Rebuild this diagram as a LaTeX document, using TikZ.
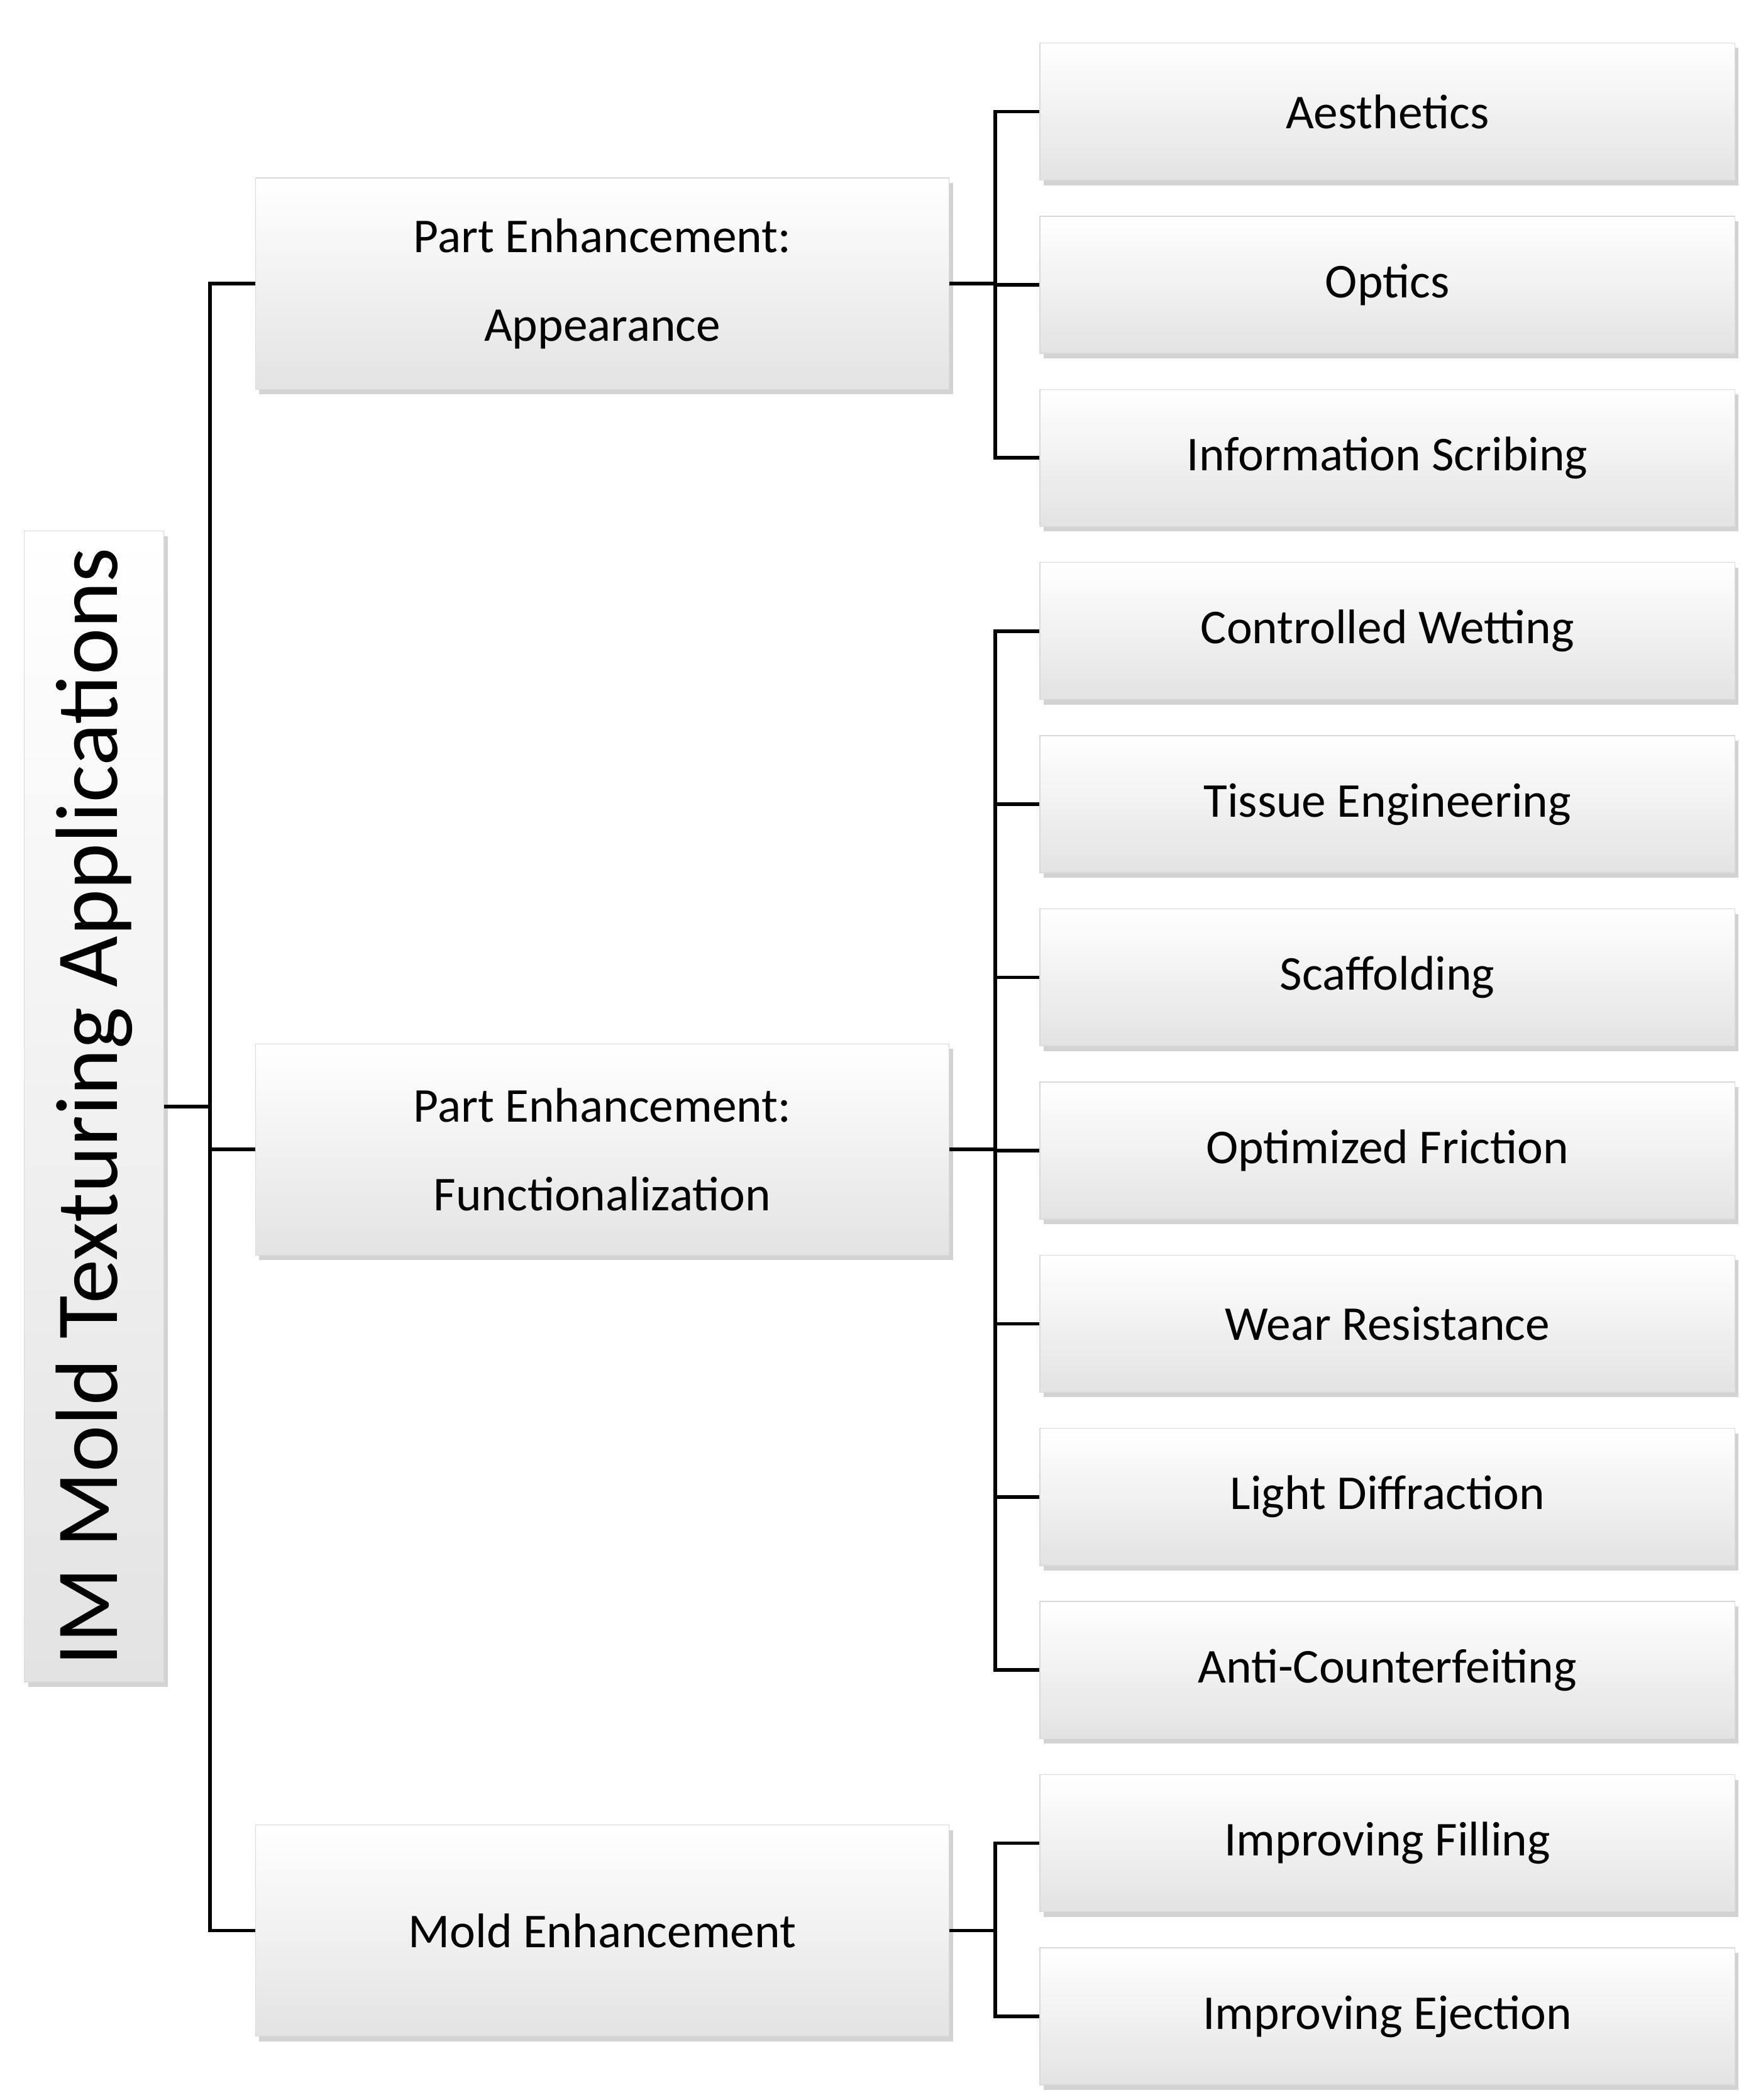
\documentclass[tikz,border=0pt]{standalone}
\usepackage{fontspec}
\setmainfont{Carlito}
\usetikzlibrary{positioning, shadows}
\tikzset{
    box/.style={draw=gray!30, top color=white, bottom color=gray!22, drop shadow={opacity=0.35, shadow xshift=0.06cm, shadow yshift=-0.08cm}, inner sep=0pt, align=center, font=\fontsize{22}{40}\selectfont}, % every box
    leaf/.style={box, minimum width=11.05cm, minimum height=2.18cm},
    mid/.style={box, minimum width=11.03cm, minimum height=3.36cm},
    link/.style={line width=1.6pt, black},
    }
\begin{document}
\begin{tikzpicture}[x=0.02138cm, y=-0.02138cm]
\useasboundingbox (0,0) rectangle (1306,1562);
% root
\node[box, minimum width=18.3cm, minimum height=2.22cm, rotate=90, font=\fontsize{40}{48}\selectfont] (root) at (70,823) {IM Mold Texturing Applications};
% middle level
\node[mid] (app) at (448,211) {Part Enhancement:\\Appearance};
\node[mid] (fun) at (448,855) {Part Enhancement:\\Functionalization};
\node[mid] (mold) at (448,1436) {Mold Enhancement};
% leaves
\foreach \name/\txt [count=\i from 0] in {aes/Aesthetics, opt/Optics, inf/Information Scribing, wet/Controlled Wetting, tis/Tissue Engineering, sca/Scaffolding, fri/Optimized Friction, wea/Wear Resistance, lig/Light Diffraction, ant/Anti-Counterfeiting, fil/Improving Filling, eje/Improving Ejection}
  \node[leaf] (\name) at (1032,83+128.8*\i) {\txt};
% connectors
\draw[link] (root.south) -- ++(34,0) coordinate (rj);
\foreach \m in {app, fun, mold}
  \draw[link] (rj) |- (\m.west);
\foreach \m/\ls in {app/{aes,opt,inf}, fun/{wet,tis,sca,fri,wea,lig,ant}, mold/{fil,eje}}{
  \draw[link] (\m.east) -- ++(34,0) coordinate (mj);
  \foreach \l in \ls
    \draw[link] (mj) |- (\l.west);
}
\end{tikzpicture}
\end{document}
